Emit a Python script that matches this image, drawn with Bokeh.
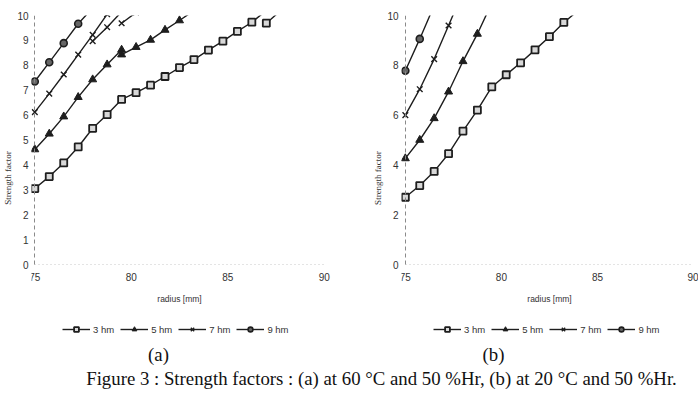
import math
from bokeh.plotting import figure
from bokeh.models import (ColumnDataSource, Range1d, FixedTicker, Legend, LegendItem,
                          LinearAxis)
from bokeh.layouts import column, row
from bokeh.embed import file_html
from bokeh.resources import INLINE
from bokeh.core.properties import value

NaN = float("nan")

# ---------------- data ----------------
series_names = ["3 hm", "5 hm", "7 hm", "9 hm"]
x_ticks = [75, 80, 85, 90]
y_ticks_a = [0, 1, 2, 3, 4, 5, 6, 7, 8, 9, 10]
y_ticks_b = [0, 2, 4, 6, 8, 10]

# (a) 60 °C, 50 %Hr  (NaN separates drawn segments)
a_x_3hm = [75, 75.75, 76.5, 77.25, 78, 78.75, 79.5, 80.25, 81, 81.75, 82.5, 83.25, 84, 84.75, 85.5, 86.25, 87, NaN, 87, 87.75]
a_y_3hm = [3.05, 3.53, 4.08, 4.72, 5.47, 6.02, 6.63, 6.9, 7.2, 7.55, 7.91, 8.23, 8.61, 8.97, 9.36, 9.73, 10.2, NaN, 9.69, 10.2]
a_x_5hm = [75, 75.75, 76.5, 77.25, 78, 78.75, 79.5, NaN, 79.5, 80.25, 81, 81.75, 82.5, 83.25]
a_y_5hm = [4.62, 5.25, 5.94, 6.72, 7.43, 8.03, 8.62, NaN, 8.43, 8.73, 9.02, 9.42, 9.8, 10.2]
a_x_7hm = [75, 75.75, 76.5, 77.25, 78, 78.75, NaN, 78, 78.75, 79.5, NaN, 79.5, 80.25]
a_y_7hm = [6.12, 6.86, 7.63, 8.43, 9.22, 10.05, NaN, 8.97, 9.53, 10.15, NaN, 9.69, 10.12]
a_x_9hm = [75, 75.75, 76.5, 77.25, 78]
a_y_9hm = [7.35, 8.12, 8.89, 9.67, 10.3]

# (b) 20 °C, 50 %Hr
b_x_3hm = [75, 75.75, 76.5, 77.25, 78, 78.75, 79.5, 80.25, 81, 81.75, 82.5, 83.25, 84]
b_y_3hm = [2.7, 3.17, 3.74, 4.45, 5.36, 6.2, 7.13, 7.62, 8.1, 8.62, 9.15, 9.72, 10.2]
b_x_5hm = [75, 75.75, 76.5, 77.25, 78, 78.75, 79.5]
b_y_5hm = [4.26, 5.0, 5.87, 6.94, 8.16, 9.26, 10.5]
b_x_7hm = [75, 75.75, 76.5, 77.25, 78]
b_y_7hm = [6.0, 7.04, 8.25, 9.6, 10.95]
b_x_9hm = [75, 75.75, 76.5]
b_y_9hm = [7.78, 9.06, 10.4]

x_title = "radius [mm]"
y_title = "Strength factor"
panel_labels = ["(a)", "(b)"]
caption = "Figure 3 : Strength factors : (a) at 60 °C and 50 %Hr, (b) at 20 °C and 50 %Hr."

# ---------------- styles ----------------
INK = "#1e1e1e"
STYLE = {
    "3 hm": dict(marker="square", size=7, fill_color="#d8d8d8", line_color=INK, line_width=1.8),
    "5 hm": dict(marker="triangle", size=8, fill_color=INK, line_color=INK, line_width=1),
    "7 hm": dict(marker="x", size=8, fill_color=None, line_color=INK, line_width=1.4),
    "9 hm": dict(marker="circle", size=7, fill_color="#666666", line_color=INK, line_width=1.6),
}


def make_panel(data, y_ticks, x_lo, x_hi, border_left, border_right, legend_vx):
    # frame runs from y=10 (15 px from top) down to the canvas bottom; the x axis is
    # pinned at y=0 and the legend sits inside the frame below it
    p = figure(width=349, height=340, output_backend="svg", toolbar_location=None,
               x_range=Range1d(x_lo, x_hi), y_range=Range1d(-3.052, 10),
               min_border_left=border_left, min_border_right=border_right,
               min_border_top=15, min_border_bottom=0)
    p.outline_line_color = None
    p.grid.visible = False
    p.background_fill_color = "white"
    p.border_fill_color = "white"

    # x axis (pinned at y = 0)
    xa = p.xaxis[0]
    xa.fixed_location = 0
    xa.bounds = (75, 90)
    xa.ticker = FixedTicker(ticks=x_ticks)
    xa.axis_line_color = "#c8c8c8"
    xa.axis_line_dash = "1 3"
    xa.major_tick_line_color = None
    xa.minor_tick_line_color = None
    xa.major_tick_out = 0
    xa.major_tick_in = 0
    xa.major_label_standoff = 8
    xa.major_label_text_font = "Liberation Sans"
    xa.major_label_text_font_size = "10px"
    xa.major_label_text_color = "#333333"
    xa.axis_label = x_title
    xa.axis_label_standoff = 10
    xa.axis_label_text_font = "Liberation Sans"
    xa.axis_label_text_font_size = "8.5px"
    xa.axis_label_text_font_style = "normal"
    xa.axis_label_text_color = "#333333"

    # y axis (labels in the left panel)
    ya = p.yaxis[0]
    ya.ticker = FixedTicker(ticks=y_ticks)
    ya.axis_line_color = None
    ya.major_tick_line_color = None
    ya.minor_tick_line_color = None
    ya.major_tick_out = 0
    ya.major_tick_in = 0
    ya.major_label_standoff = 3
    ya.major_label_text_font = "Liberation Sans"
    ya.major_label_text_font_size = "10px"
    ya.major_label_text_color = "#333333"
    ya.axis_label = y_title
    ya.axis_label_standoff = 1
    ya.axis_label_text_font = "Liberation Serif"
    ya.axis_label_text_font_size = "9px"
    ya.axis_label_text_font_style = "normal"
    ya.axis_label_text_color = "#333333"

    # dashed axis line at r = 75 from 0 to 10
    yline = LinearAxis(fixed_location=75, bounds=(0, 10), ticker=FixedTicker(ticks=[]),
                       axis_line_color="#8a8a8a", axis_line_dash="4 3", axis_line_width=1,
                       major_tick_line_color=None, minor_tick_line_color=None)
    p.add_layout(yline, "left")

    items = []
    for name in series_names:
        xs, ys = data[name]
        src = ColumnDataSource(dict(x=xs, y=ys))
        ln = p.line("x", "y", source=src, line_color=INK, line_width=1.4)
        sc = p.scatter("x", "y", source=src, **STYLE[name])
        items.append(LegendItem(label=name, renderers=[ln, sc]))

    legend = Legend(items=items, orientation="horizontal", location=(legend_vx, 5),
                    glyph_width=28, glyph_height=12, label_height=12, label_standoff=3,
                    spacing=6, padding=0, margin=0,
                    label_text_font="Liberation Sans", label_text_font_size="9.5px",
                    label_text_color="#333333",
                    background_fill_alpha=0, border_line_alpha=0)
    p.add_layout(legend)
    return p


data_a = {"3 hm": (a_x_3hm, a_y_3hm), "5 hm": (a_x_5hm, a_y_5hm),
          "7 hm": (a_x_7hm, a_y_7hm), "9 hm": (a_x_9hm, a_y_9hm)}
data_b = {"3 hm": (b_x_3hm, b_y_3hm), "5 hm": (b_x_5hm, b_y_5hm),
          "7 hm": (b_x_7hm, b_y_7hm), "9 hm": (b_x_9hm, b_y_9hm)}

p1 = make_panel(data_a, y_ticks_a, 74.83, 91.0, 31, 6, 31)
p2 = make_panel(data_b, y_ticks_b, 74.8, 90.26, 52, 0, 32)

# caption strip
pc = figure(width=698, height=56, output_backend="svg", toolbar_location=None,
            x_range=Range1d(0, 698), y_range=Range1d(56, 0),
            x_axis_type=None, y_axis_type=None, min_border=0)
pc.outline_line_color = None
pc.grid.visible = False
cap_src = ColumnDataSource(dict(x=[158, 493, 381], y=[14, 14, 38],
                                t=[panel_labels[0], panel_labels[1], caption]))
pc.text("x", "y", text="t", source=cap_src, text_font=value("Liberation Serif"),
        text_font_size="18.8px", text_align="center", text_baseline="middle",
        text_color="#111111")

layout = column(row(p1, p2), pc)

with open("out.html", "w") as f:
    f.write(file_html(layout, INLINE))
